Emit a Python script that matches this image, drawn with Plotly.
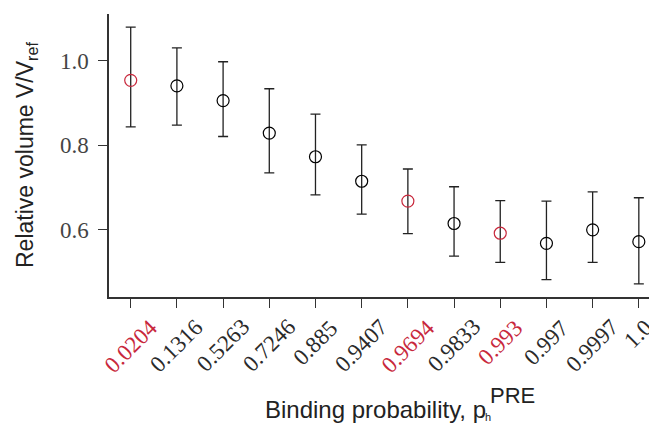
import plotly.graph_objects as go

labels = ["0.0204", "0.1316", "0.5263", "0.7246", "0.885", "0.9407",
          "0.9694", "0.9833", "0.993", "0.997", "0.9997", "1.0"]
values = [0.954, 0.941, 0.906, 0.829, 0.773, 0.715, 0.668, 0.615, 0.592, 0.568, 0.600, 0.572]
upper = [1.080, 1.031, 0.998, 0.934, 0.874, 0.801, 0.744, 0.702, 0.669, 0.668, 0.690, 0.676]
lower = [0.844, 0.848, 0.821, 0.735, 0.683, 0.637, 0.591, 0.538, 0.523, 0.482, 0.523, 0.472]
highlight = [0, 6, 8]

RED = "#c8283c"
x = list(range(len(labels)))
err_plus = [u - v for u, v in zip(upper, values)]
err_minus = [v - l for v, l in zip(values, lower)]
colors = [RED if i in highlight else "black" for i in x]

fig = go.Figure()
fig.add_trace(go.Scatter(
    x=x, y=values, mode="markers",
    marker=dict(symbol="circle-open", size=12, color=colors, line=dict(width=1.2, color=colors)),
    error_y=dict(type="data", symmetric=False, array=err_plus, arrayminus=err_minus,
                 color="#222222", thickness=1.3, width=5),
    showlegend=False,
))

# page offset of 8px (browser body margin)
OFF = 8
W, H = 657 - OFF, 425 - OFF
L, R, T = 109 - OFF, 2, 14 - OFF
B = H - (297 - OFF)
pw, ph = W - L - R, H - T - B

def px(xp):
    return (xp - OFF - L) / pw

def py(yp):
    return (H - B - (yp - OFF)) / ph

fig.update_layout(
    width=W, height=H,
    margin=dict(l=L, r=R, t=T, b=B),
    plot_bgcolor="white", paper_bgcolor="white",
    xaxis=dict(range=[-0.47, 11.35], tickvals=x, showticklabels=False,
               automargin=False,
               showgrid=False, zeroline=False, showline=True, linecolor="#333333", linewidth=1.5,
               ticks="outside", ticklen=9, tickwidth=1.3, tickcolor="#333333"),
    yaxis=dict(range=[0.441, 1.111], tickvals=[0.6, 0.8, 1.0], ticktext=["0.6", "0.8", "1.0"],
               automargin=False, ticklabelstandoff=5,
               showgrid=False, zeroline=False, showline=True, linecolor="#333333", linewidth=1.5,
               ticks="outside", ticklen=9, tickwidth=1.3, tickcolor="#333333",
               tickfont=dict(family="Liberation Serif", size=23, color="#444444")),
    font=dict(family="Liberation Sans", color="#222222"),
)

# rotated category labels, centred under their ticks
for i, t in enumerate(labels):
    fig.add_annotation(xref="x", yref="paper", x=i, y=py(312), text=t, showarrow=False,
                       textangle=-45, xanchor="center", yanchor="top",
                       font=dict(family="Liberation Serif", size=23,
                                 color=RED if i in highlight else "#2a2a2a"))

def label(text, xp, yp, size, angle=0):
    fig.add_annotation(xref="paper", yref="paper", x=px(xp), y=py(yp), text=text,
                       showarrow=False, xanchor="center", yanchor="middle", textangle=angle,
                       font=dict(size=size, family="Liberation Sans", color="#222222"))

label("Binding probability, p", 375, 409, 24)
label("h", 488, 417, 11)
label("PRE", 512, 395, 22)
label("Relative volume V/V<sub>ref</sub>", 26, 155, 23, angle=-90)

fig.write_html("out.html")
